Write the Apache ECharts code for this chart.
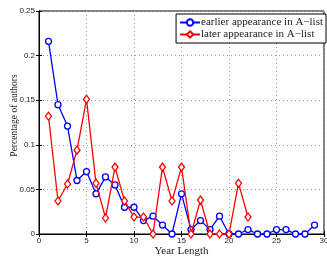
<!DOCTYPE html>
<html>
<head>
<meta charset="utf-8">
<script src="https://cdn.jsdelivr.net/npm/echarts@6/dist/echarts.min.js"></script>
<style>
  html, body { margin: 0; padding: 0; background: #fff; }
  #main { width: 327px; height: 257px; }
</style>
</head>
<body>
<div id="main"></div>
<script>
// year length 1..29
const yearsEarlier = [1, 2, 3, 4, 5, 6, 7, 8, 9, 10, 11, 12, 13, 14, 15, 16, 17, 18, 19, 20, 21, 22, 23, 24, 25, 26, 27, 28, 29];
const earlier = [0.216, 0.145, 0.121, 0.060, 0.070, 0.045, 0.064, 0.055, 0.030, 0.030, 0.015, 0.020, 0.010, 0.000, 0.045, 0.005, 0.015, 0.005, 0.020, 0.000, 0.000, 0.005, 0.000, 0.000, 0.005, 0.005, 0.000, 0.000, 0.010];
const yearsLater = [1, 2, 3, 4, 5, 6, 7, 8, 9, 10, 11, 12, 13, 14, 15, 16, 17, 18, 19, 20, 21, 22];
const later = [0.132, 0.037, 0.056, 0.094, 0.151, 0.057, 0.018, 0.075, 0.037, 0.019, 0.019, 0.000, 0.075, 0.037, 0.075, 0.000, 0.038, 0.000, 0.000, 0.000, 0.057, 0.019];
const seriesNames = ['earlier appearance in A\u2212list', 'later appearance in A\u2212list'];
const xTicks = [0, 5, 10, 15, 20, 25, 30];
const yTicks = [0, 0.05, 0.1, 0.15, 0.2, 0.25];

const chart = echarts.init(document.getElementById('main'), null, { renderer: 'canvas' });

const tickFont = { fontFamily: 'Liberation Sans', fontSize: 8, color: '#222' };
const gridLine = { show: true, lineStyle: { color: '#999', type: [1, 3], width: 1 } };

function pairs(xs, ys) {
  return xs.map((x, i) => [x, ys[i]]);
}

const option = {
  animation: false,
  grid: {
    left: 39, right: 3, top: 11, bottom: 23,
    containLabel: false, outerBoundsMode: 'none',
    show: true, borderColor: '#000', borderWidth: 1, backgroundColor: 'transparent'
  },
  legend: {
    orient: 'vertical',
    right: 1, top: 14,
    backgroundColor: '#fff',
    borderColor: '#000', borderWidth: 1, borderRadius: 0,
    padding: [3, 3, 3, 3],
    itemGap: 1,
    itemWidth: 20, itemHeight: 8,
    textStyle: { fontFamily: 'Liberation Serif', fontSize: 11, color: '#222', padding: [0, 0, 0, -4] },
    data: seriesNames
  },
  xAxis: [{
    type: 'value', min: 0, max: 30, interval: 5,
    name: 'Year Length', nameLocation: 'middle', nameGap: 12, nameMoveOverlap: false,
    nameTextStyle: { fontFamily: 'Liberation Serif', fontSize: 11, color: '#222', verticalAlign: 'top' },
    axisLine: { show: true, lineStyle: { color: '#000' } },
    axisTick: { show: true, inside: true, length: 3, lineStyle: { color: '#000' } },
    axisLabel: Object.assign({ margin: 3, formatter: v => xTicks.includes(v) ? String(v) : '' }, tickFont),
    splitLine: gridLine
  }, {
    type: 'value', min: 0, max: 30, interval: 5, position: 'top',
    axisLine: { show: true, lineStyle: { color: '#000' } },
    axisTick: { show: true, inside: true, length: 3, lineStyle: { color: '#000' } },
    axisLabel: { show: false }, splitLine: { show: false }
  }],
  yAxis: [{
    type: 'value', min: 0, max: 0.25, interval: 0.05,
    name: 'Percentage of authors', nameLocation: 'middle', nameGap: 20, nameMoveOverlap: false,
    nameTextStyle: { fontFamily: 'Liberation Serif', fontSize: 9.5, color: '#222', padding: [0, 0, 0, 14] },
    axisLine: { show: true, lineStyle: { color: '#000' } },
    axisTick: { show: true, inside: true, length: 3, lineStyle: { color: '#000' } },
    axisLabel: Object.assign({ margin: 4, formatter: v => {
      const t = yTicks.find(k => Math.abs(k - v) < 1e-9);
      return t === undefined ? '' : String(+t.toFixed(2));
    } }, tickFont),
    splitLine: gridLine
  }, {
    type: 'value', min: 0, max: 0.25, interval: 0.05, position: 'right',
    axisLine: { show: true, lineStyle: { color: '#000' } },
    axisTick: { show: true, inside: true, length: 3, lineStyle: { color: '#000' } },
    axisLabel: { show: false }, splitLine: { show: false }
  }],
  series: [{
    name: seriesNames[0],
    type: 'line',
    data: pairs(yearsEarlier, earlier),
    symbol: 'circle', symbolSize: 6,
    lineStyle: { color: '#0000ff', width: 1.3 },
    itemStyle: { color: '#fff', borderColor: '#0000ff', borderWidth: 1.3 },
    z: 3
  }, {
    name: seriesNames[1],
    type: 'line',
    data: pairs(yearsLater, later),
    symbol: 'diamond', symbolSize: [6, 8],
    lineStyle: { color: '#ff0000', width: 1.3 },
    itemStyle: { color: '#fff', borderColor: '#ff0000', borderWidth: 1.3 },
    z: 4
  }]
};

chart.setOption(option);
</script>
</body>
</html>
